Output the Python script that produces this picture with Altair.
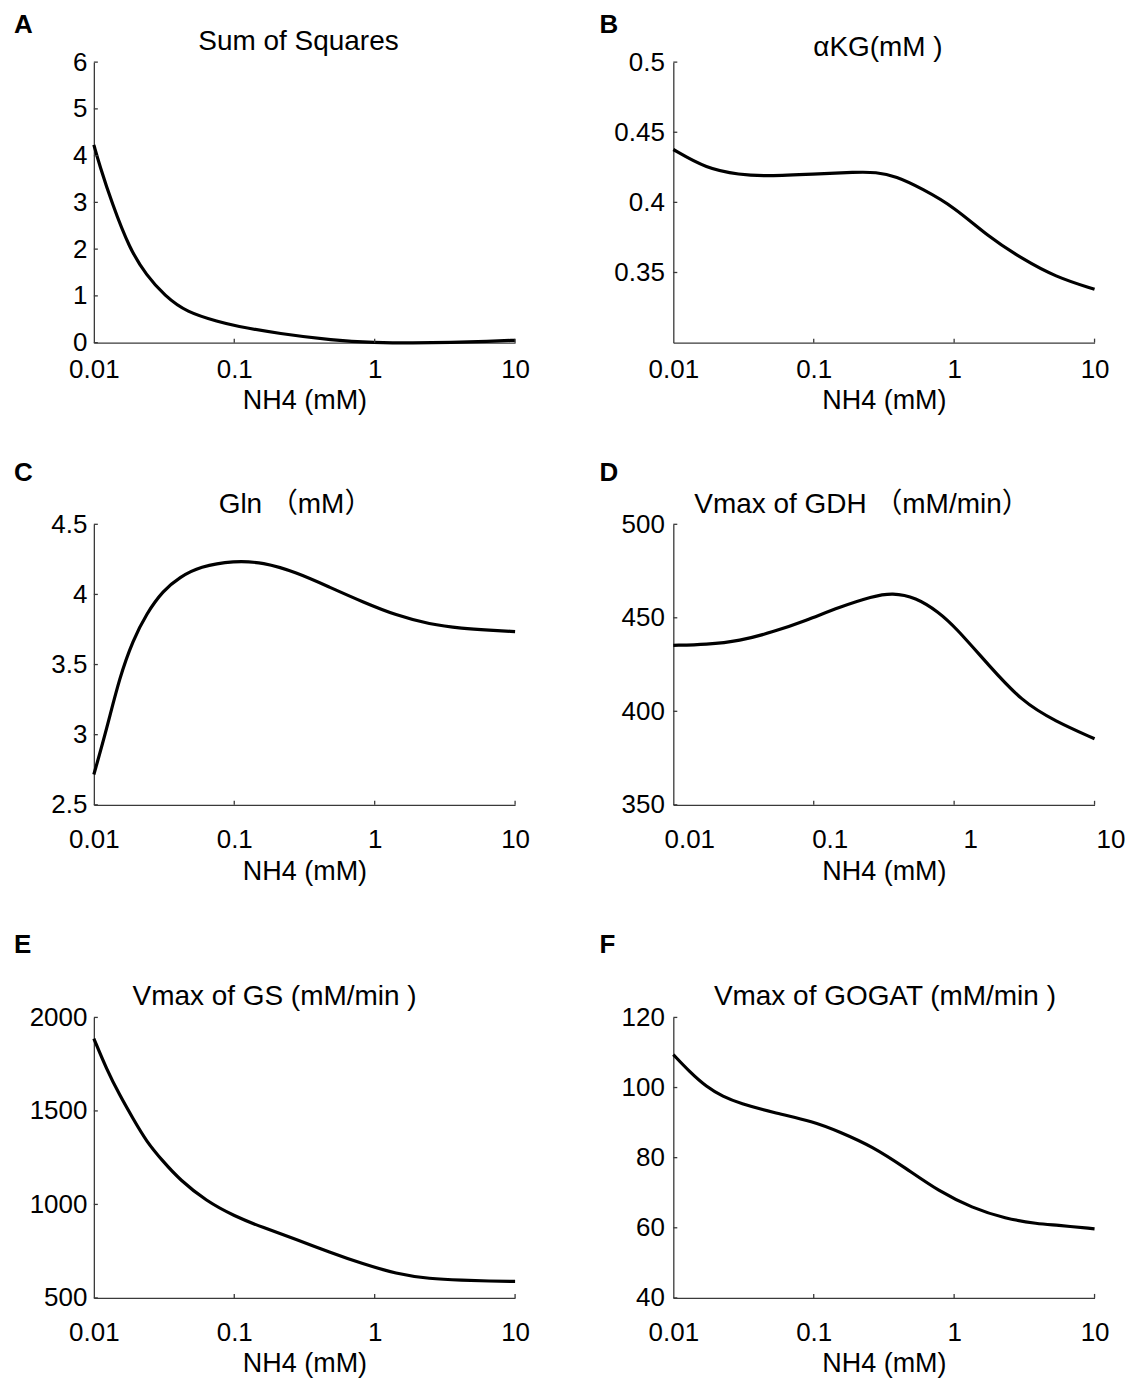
import altair as alt
import pandas as pd

FONT = "Liberation Sans, Arial, Noto Sans CJK SC, sans-serif"
AXIS_COLOR = "#3a3a3a"
W, H = 422, 281

X_TICKS = [0.01, 0.1, 1, 10]
X_TITLE = "NH4 (mM)"

# Panel A: Sum of Squares
a_x = [0.01, 0.011, 0.0134, 0.018, 0.0237, 0.032, 0.0456, 0.0787, 0.1, 0.21, 0.5, 1.0, 1.86, 3.5, 6.5, 10]
a_y = [4.23, 3.79, 3.0, 2.0, 1.44, 1.0, 0.65, 0.44, 0.36, 0.19, 0.05, 0.0, -0.01, 0.0, 0.03, 0.05]
a_ticks = [0, 1, 2, 3, 4, 5, 6]

# Panel B: aKG
b_x = [0.01, 0.0172, 0.0297, 0.0459, 0.1, 0.2, 0.277, 0.384, 0.593, 1.0, 1.76, 3.03, 5.24, 10]
b_y = [0.4377, 0.424, 0.4197, 0.4187, 0.4201, 0.4216, 0.4216, 0.4187, 0.4097, 0.3967, 0.3754, 0.360, 0.3469, 0.338]
b_ticks = [0.35, 0.4, 0.45, 0.5]

# Panel C: Gln
c_x = [0.01, 0.0123, 0.0153, 0.019, 0.0237, 0.0311, 0.0409, 0.0567, 0.1, 0.16, 0.276, 0.476, 0.822, 1.42, 2.45, 4.23, 6.53, 10]
c_y = [2.716, 3.035, 3.414, 3.674, 3.863, 4.028, 4.123, 4.199, 4.241, 4.229, 4.158, 4.052, 3.946, 3.851, 3.787, 3.757, 3.745, 3.735]
c_ticks = [2.5, 3, 3.5, 4, 4.5]

# Panel D: Vmax of GDH
d_x = [0.01, 0.0172, 0.0297, 0.0512, 0.0883, 0.152, 0.262, 0.363, 0.532, 0.778, 1.02, 1.76, 3.03, 5.24, 10]
d_y = [435.3, 435.7, 437.6, 442.4, 448.6, 455.7, 461.5, 463.4, 461.0, 453.0, 445.0, 424.7, 405.3, 394.7, 385.3]
d_ticks = [350, 400, 450, 500]

# Panel E: Vmax of GS
e_x = [0.01, 0.0123, 0.0153, 0.019, 0.0237, 0.0311, 0.0409, 0.0632, 0.1, 0.16, 0.276, 0.476, 0.822, 1.42, 2.45, 4.23, 6.53, 10]
e_y = [1887, 1724, 1583, 1459, 1336, 1230, 1132, 1018, 938, 876, 814, 744, 682, 629, 602, 594, 590, 588]
e_ticks = [500, 1000, 1500, 2000]

# Panel F: Vmax of GOGAT
f_x = [0.01, 0.01313, 0.0172, 0.0226, 0.0297, 0.0512, 0.1, 0.152, 0.262, 0.452, 0.778, 1.34, 2.31, 3.98, 5.24, 10]
f_y = [109.4, 104.4, 100.2, 97.4, 95.5, 92.9, 90.3, 87.4, 83.2, 77.0, 70.4, 65.7, 62.6, 61.1, 60.8, 59.7]
f_ticks = [40, 60, 80, 100, 120]

letters = ["A", "B", "C", "D", "E", "F"]
titles = ["Sum of Squares", "\u03b1KG(mM )", "Gln \uff08mM\uff09",
          "Vmax of GDH \uff08mM/min\uff09", "Vmax of GS (mM/min )", "Vmax of GOGAT (mM/min )"]

specs = [
    dict(x=a_x, y=a_y, dom=[0, 6], ticks=a_ticks, lx=-80, ly=-29, tx=205, ty=-12, xlp=14, xtp=26, ylp=7, lo=0),
    dict(x=b_x, y=b_y, dom=[0.3, 0.5], ticks=b_ticks, lx=-74, ly=-29, tx=205, ty=-6, xlp=14, xtp=26, ylp=9, lo=0),
    dict(x=c_x, y=c_y, dom=[2.5, 4.5], ticks=c_ticks, lx=-80, ly=-43, tx=202, ty=-11, xlp=22, xtp=26.5, ylp=7, lo=0),
    dict(x=d_x, y=d_y, dom=[350, 500], ticks=d_ticks, lx=-74, ly=-43, tx=189, ty=-11, xlp=22, xtp=26.5, ylp=9, lo=16),
    dict(x=e_x, y=e_y, dom=[500, 2000], ticks=e_ticks, lx=-80, ly=-65, tx=181, ty=-12, xlp=22, xtp=26, ylp=7, lo=0),
    dict(x=f_x, y=f_y, dom=[40, 120], ticks=f_ticks, lx=-74, ly=-65, tx=212, ty=-12, xlp=22, xtp=26, ylp=9, lo=0),
]


def panel(letter, title, s):
    df = pd.DataFrame({"nh4": s["x"], "val": s["y"]})
    xscale = alt.Scale(type="log", domain=[0.01, 10], nice=False)
    yscale = alt.Scale(domain=s["dom"], nice=False, zero=False)
    xaxis = alt.Axis(values=X_TICKS, format=".6~g", title=X_TITLE, ticks=False, tickSize=0,
                     labelPadding=s["xlp"], titlePadding=s["xtp"], titleBaseline="alphabetic",
                     labelFlush=False, labelOverlap=False, labelOffset=s["lo"])
    yaxis = alt.Axis(values=s["ticks"], format=".6~g", title=None, ticks=False, tickSize=0,
                     labelPadding=s["ylp"], labelFlush=False, labelOverlap=False)
    line = alt.Chart(df).mark_line(color="black", strokeWidth=3.2, interpolate="basis").encode(
        x=alt.X("nh4:Q", scale=xscale, axis=xaxis),
        y=alt.Y("val:Q", scale=yscale, axis=yaxis),
    )
    xt = alt.Chart(pd.DataFrame({"nh4": X_TICKS[1:]})).mark_rule(color=AXIS_COLOR, strokeWidth=1.3).encode(
        x=alt.X("nh4:Q", scale=xscale, axis=xaxis), y=alt.value(H), y2=alt.value(H - 4))
    yt = alt.Chart(pd.DataFrame({"val": s["ticks"]})).mark_rule(color=AXIS_COLOR, strokeWidth=1.3).encode(
        y=alt.Y("val:Q", scale=yscale, axis=yaxis), x=alt.value(0), x2=alt.value(4))
    lt = alt.Chart(pd.DataFrame({"s": [letter]})).mark_text(
        align="left", baseline="alphabetic", fontSize=26, fontWeight="bold", font=FONT, color="black"
    ).encode(text="s:N", x=alt.value(s["lx"]), y=alt.value(s["ly"]))
    tt = alt.Chart(pd.DataFrame({"s": [title]})).mark_text(
        align="center", baseline="alphabetic", fontSize=28, font=FONT, color="black"
    ).encode(text="s:N", x=alt.value(s["tx"]), y=alt.value(s["ty"]))
    return alt.layer(line, xt, yt, lt, tt).properties(width=W, height=H)


panels = [panel(l, t, s) for l, t, s in zip(letters, titles, specs)]

chart = alt.concat(
    *panels, columns=2, spacing={"row": 47, "column": 69.5}, align="each", bounds="full"
).properties(
    padding={"left": 6, "top": 3, "right": 0, "bottom": 0}
).configure_view(stroke=None).configure_axis(
    grid=False, domainColor=AXIS_COLOR, domainWidth=1.3,
    labelFont=FONT, titleFont=FONT, labelFontSize=26, titleFontSize=27,
    labelColor="black", titleColor="black", titleFontWeight="normal"
)

chart.save("out.html", embed_options={"renderer": "svg", "actions": False})
